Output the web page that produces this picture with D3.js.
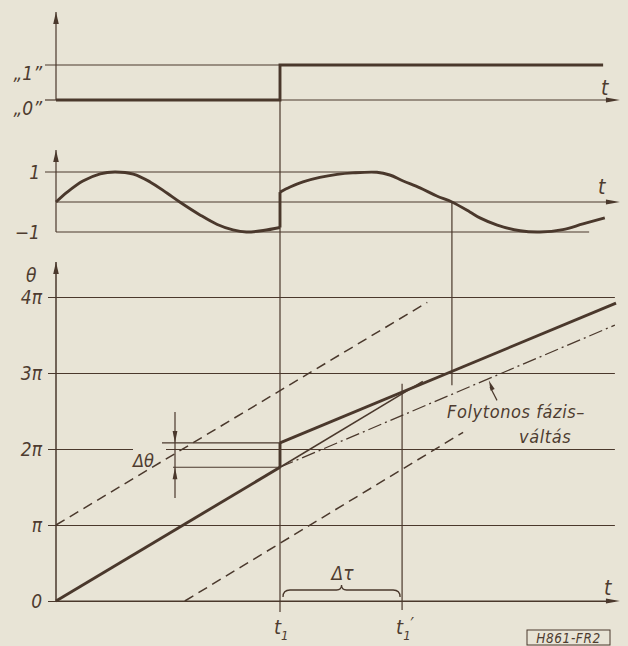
<!DOCTYPE html>
<html>
<head>
<meta charset="utf-8">
<script src="https://cdn.jsdelivr.net/npm/d3@7"></script>
<style>
    body { margin: 0; background: #e8e4d6; }
    svg text { font-family: "DejaVu Sans Condensed", "DejaVu Sans", sans-serif; font-style: italic; fill: #4e3c30; }
</style>
</head>
<body>
<svg id="svg1" width="628" height="646"></svg>
<script>
// time runs 0..100 in arbitrary units, t1 at 40
const tEnd = 100.7;          // arrow tip of the time axes
const t1 = 40;
const t1Prime = 61.8;
const tCross = 70.7;          // sine zero crossing carried down to 3π

// top panel: the data bit
const bitTicks = [1, 0];
const bitLabels = ["„1”", "„0”"];
const bitSignal = [[0, 0], [40, 0], [40, 1], [97.7, 1]];

// middle panel: the carrier
const sineTicks = [1, -1];
const sineLabels = ["1", "−1"];
const sineBefore = [[0, 0], [2.0, 0.33], [4.8, 0.7], [7.9, 0.94], [10.5, 1.0], [13.8, 0.93], [16.8, 0.67],
    [19.8, 0.3], [22.1, 0], [25.7, -0.43], [28.8, -0.75], [31.6, -0.93], [34.0, -1.0], [37.0, -0.95], [40, -0.85]];
const sineAfter = [[40, 0.33], [41.8, 0.5], [44.1, 0.67], [47.1, 0.82], [50.2, 0.92], [53.0, 0.97], [57.3, 0.99],
    [59.6, 0.9], [62.0, 0.7], [65.0, 0.47], [68.0, 0.2], [70.7, 0], [73.9, -0.33], [75.7, -0.53], [78.8, -0.77],
    [82.9, -0.96], [86.4, -1.0], [90.5, -0.92], [94.1, -0.73], [98.0, -0.53]];

// bottom panel: phase, in units of π
const phaseTicks = [0, 1, 2, 3, 4];
const phaseLabels = ["0", "π", "2π", "3π", "4π"];
const phaseOld = [[0, 0], [40, 1.76]];
const phaseOldExt = [[40, 1.76], [65.5, 2.89]];
const phaseNew = [[40, 2.08], [100, 3.92]];
const phasePlusPi = [[0, 1], [66.3, 3.93]];
const phaseMinusPi = [[23.0, 0], [72.7, 2.22]];
const phaseContinuous = [[40, 1.76], [99.8, 3.63]];
const deltaTheta = [1.76, 2.08];

const ink = "#4a382c";
const thin = 1.2;
const thick = 2.9;

function renderChart() {
    const svg = d3.select("#svg1");

    const x = d3.scaleLinear().domain([0, 100]).range([56, 616]);
    const yBit = d3.scaleLinear().domain([0, 1]).range([100, 65]);
    const ySin = d3.scaleLinear().domain([-1, 1]).range([232, 172]);
    const yPh = d3.scaleLinear().domain([0, 4]).range([601, 297]);

    const line = d3.line().x(d => x(d[0])).y(d => d[1]);

    function seg(x1, y1, x2, y2, w, dash) {
        const l = svg.append("line")
            .attr("x1", x1).attr("y1", y1).attr("x2", x2).attr("y2", y2)
            .attr("stroke", ink).attr("stroke-width", w || thin);
        if (dash) l.attr("stroke-dasharray", dash);
        return l;
    }

    // small filled arrow head, tip at (tx,ty), pointing along angle a (radians)
    function head(tx, ty, a, len, half) {
        len = len || 12; half = half || 2.8;
        const bx = tx - len * Math.cos(a), by = ty - len * Math.sin(a);
        const nx = -Math.sin(a) * half, ny = Math.cos(a) * half;
        svg.append("path")
            .attr("d", `M${tx},${ty}L${bx + nx},${by + ny}L${bx - nx},${by - ny}Z`)
            .attr("fill", ink);
    }

    function label(el, size) {
        el.selectAll("text").attr("font-size", size).attr("fill", ink)
            .attr("font-family", null).attr("font-style", "italic");
        el.select(".domain").remove();
        return el;
    }

    // ---------- top panel ----------
    seg(x(0), yBit(0), x(0), 12);
    head(x(0), 12, -Math.PI / 2);
    seg(45, yBit(1), x(t1), yBit(1));
    seg(45, yBit(0), x(0), yBit(0));
    seg(x(t1), yBit(0), x(tEnd) - 6, yBit(0));
    head(x(tEnd), yBit(0), 0, 14, 2.6);
    svg.append("path").datum(bitSignal.map(d => [d[0], yBit(d[1])]))
        .attr("d", line).attr("fill", "none").attr("stroke", ink).attr("stroke-width", thick);
    const gBit = svg.append("g").attr("transform", "translate(46,0)")
        .call(d3.axisLeft(yBit).tickValues(bitTicks).tickFormat((d, i) => bitLabels[i]).tickSize(0).tickPadding(4));
    label(gBit, 19);
    gBit.selectAll("text").attr("dy", "0.75em");

    // ---------- middle panel ----------
    seg(x(0), ySin(-1), x(0), 150);
    head(x(0), 150, -Math.PI / 2);
    seg(45, ySin(1), x(57.3), ySin(1));
    seg(x(0), ySin(-1), x(95.2), ySin(-1));
    seg(x(0), ySin(0), x(tEnd) - 6, ySin(0));
    head(x(tEnd), ySin(0), 0, 14, 2.6);
    svg.append("path").datum(sineBefore.map(d => [d[0], ySin(d[1])]))
        .attr("d", line.curve(d3.curveCatmullRom)).attr("fill", "none").attr("stroke", ink).attr("stroke-width", thick);
    seg(x(t1), ySin(-0.85), x(t1), ySin(0.33), thick);
    svg.append("path").datum(sineAfter.map(d => [d[0], ySin(d[1])]))
        .attr("d", line.curve(d3.curveCatmullRom)).attr("fill", "none").attr("stroke", ink).attr("stroke-width", thick);
    line.curve(d3.curveLinear);
    const gSin = svg.append("g").attr("transform", "translate(44,0)")
        .call(d3.axisLeft(ySin).tickValues(sineTicks).tickFormat((d, i) => sineLabels[i]).tickSize(0).tickPadding(4));
    label(gSin, 19);

    // ---------- bottom panel ----------
    const gPh = svg.append("g").attr("transform", "translate(48,0)")
        .call(d3.axisLeft(yPh).tickValues(phaseTicks).tickFormat((d, i) => phaseLabels[i])
            .tickSizeInner(-(x(99.8) - 48)).tickSizeOuter(0).tickPadding(6));
    label(gPh, 19);
    gPh.selectAll(".tick line").attr("stroke", ink).attr("stroke-width", thin);
    // gap in the 2π line for the Δθ label
    svg.append("rect").attr("x", 133).attr("y", yPh(2) - 3).attr("width", 33).attr("height", 6).attr("fill", "#e8e4d6");

    seg(x(0), yPh(0), x(0), 262, thin + 0.3);
    head(x(0), 262, -Math.PI / 2);
    seg(x(0), yPh(0), x(tEnd) - 6, yPh(0));
    head(x(tEnd), yPh(0), 0, 14, 2.6);
    svg.append("text").attr("x", 26).attr("y", 282).attr("font-size", 19).text("θ");

    // verticals
    seg(x(t1), yBit(1), x(t1), 612);
    seg(x(t1Prime), yPh(2.86), x(t1Prime), 610);
    seg(x(tCross), ySin(0), x(tCross), yPh(2.84));

    function phase(data, w, dash) {
        svg.append("path").datum(data.map(d => [d[0], yPh(d[1])]))
            .attr("d", line).attr("fill", "none").attr("stroke", ink)
            .attr("stroke-width", w).attr("stroke-dasharray", dash || null);
    }
    phase(phasePlusPi, 1.5, "10,6");
    phase(phaseMinusPi, 1.5, "10,6");
    phase(phaseContinuous, 1.3, "14,4,2,4");
    phase(phaseOldExt, 1.5);
    phase(phaseOld, thick);
    phase(phaseNew, thick);
    seg(x(t1), yPh(deltaTheta[0]), x(t1), yPh(deltaTheta[1]), thick);

    // Δθ dimension
    seg(162, yPh(deltaTheta[1]), x(t1), yPh(deltaTheta[1]));
    seg(173, yPh(deltaTheta[0]), x(t1), yPh(deltaTheta[0]));
    seg(175, 412, 175, 498);
    head(175, yPh(deltaTheta[1]), Math.PI / 2, 12, 2.4);
    head(175, yPh(deltaTheta[0]), -Math.PI / 2, 12, 2.4);
    svg.append("text").attr("x", 133).attr("y", 467).attr("font-size", 18).text("Δθ");

    // Δτ brace between t1 and t1'
    const bx1 = x(t1) + 3, bx2 = x(t1Prime) - 2, by = 590, bm = (bx1 + bx2) / 2;
    svg.append("path")
        .attr("d", `M${bx1},${by + 7}Q${bx1},${by} ${bx1 + 7},${by}L${bm - 5},${by}Q${bm},${by} ${bm},${by - 5}` +
            `Q${bm},${by} ${bm + 5},${by}L${bx2 - 7},${by}Q${bx2},${by} ${bx2},${by + 7}`)
        .attr("fill", "none").attr("stroke", ink).attr("stroke-width", 1.3);
    svg.append("text").attr("x", bm + 1).attr("y", 580).attr("font-size", 19).attr("text-anchor", "middle").text("Δτ");

    // t labels
    svg.append("text").attr("x", 601).attr("y", 95).attr("font-size", 21).text("t");
    svg.append("text").attr("x", 598).attr("y", 194).attr("font-size", 21).text("t");
    svg.append("text").attr("x", 604).attr("y", 595).attr("font-size", 21).text("t");

    const tl = svg.append("text").attr("x", x(t1) - 6).attr("y", 634).attr("font-size", 20);
    tl.append("tspan").text("t");
    tl.append("tspan").attr("font-size", 13).attr("dy", 6).text("1");
    // t1' : subscript then prime, laid out in sequence
    const tp = svg.append("text").attr("x", x(t1Prime) - 6).attr("y", 634).attr("font-size", 20);
    tp.append("tspan").text("t");
    tp.append("tspan").attr("font-size", 13).attr("dy", 6).text("1");
    tp.append("tspan").attr("font-size", 17).attr("dy", -10).text("′");

    // annotation
    seg(x(78.75), yPh(2.64), x(77.5), yPh(2.82));
    head(x(77.3), yPh(2.9), Math.atan2(yPh(2.9) - yPh(2.64), x(77.3) - x(78.75)), 10, 2.2);
    svg.append("text").attr("x", 447).attr("y", 418).attr("font-size", 18)
        .attr("letter-spacing", 0.6).text("Folytonos fázis–");
    svg.append("text").attr("x", 519).attr("y", 443).attr("font-size", 18)
        .attr("letter-spacing", 0.6).text("váltás");

    // drawing number
    svg.append("rect").attr("x", 527).attr("y", 630).attr("width", 83).attr("height", 15)
        .attr("fill", "none").attr("stroke", ink).attr("stroke-width", 1);
    svg.append("text").attr("x", 568.5).attr("y", 643).attr("font-size", 13.5)
        .attr("text-anchor", "middle").attr("letter-spacing", 0.6).text("H861-FR2");
}

renderChart();
</script>
</body>
</html>
